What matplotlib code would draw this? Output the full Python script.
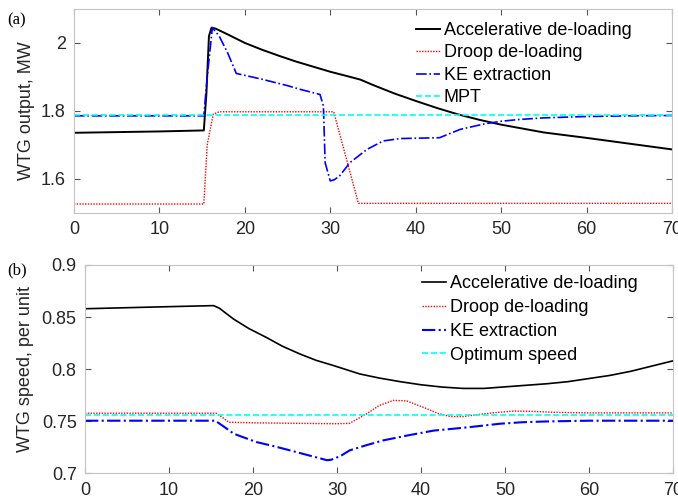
import numpy as np
from matplotlib import pyplot as plt

plt.rcParams['font.family'] = ['Liberation Sans', 'DejaVu Sans']

# (a) WTG output, MW
t_acc_p = [0, 5, 10, 15.2, 15.5, 15.8, 16.1, 16.6, 18, 20, 22, 24, 26, 28, 30, 32, 33.5, 35, 37.5,
           40, 42.5, 45, 47.5, 50, 55, 60, 65, 70]
acc_p = [1.735, 1.737, 1.739, 1.742, 1.85, 2.02, 2.045, 2.042, 2.025, 2.0, 1.98, 1.962, 1.945, 1.93,
         1.915, 1.902, 1.892, 1.876, 1.851, 1.829, 1.808, 1.789, 1.773, 1.759, 1.736, 1.72, 1.703, 1.686]

t_droop_p = [0, 15.2, 15.6, 16.3, 17, 30.4, 33.3, 70]
droop_p = [1.525, 1.525, 1.70, 1.79, 1.797, 1.797, 1.527, 1.527]

t_ke_p = [0, 15.2, 15.6, 16.2, 17, 18, 19.0, 22, 25, 26.5, 28.8, 29.2, 29.4, 30.0, 30.5, 31.1, 32.3,
          34.3, 36.2, 38.2, 40, 42.8, 45.2, 48, 50, 52, 55, 60, 65, 70]
ke_p = [1.785, 1.785, 1.9, 2.045, 2.02, 1.97, 1.91, 1.893, 1.874, 1.863, 1.848, 1.814, 1.647, 1.593,
        1.597, 1.608, 1.647, 1.686, 1.711, 1.718, 1.719, 1.7205, 1.745, 1.761, 1.769, 1.774, 1.779,
        1.783, 1.785, 1.786]

t_mpt = [0, 70]
mpt = [1.788, 1.788]

# (b) WTG speed, per unit
t_acc_w = [0, 5, 10, 15.3, 16.0, 16.8, 17.7, 19.5, 21.6, 23.5, 25.6, 27.5, 29.6, 32.7, 35, 37.5, 40,
           42.5, 45, 47.5, 50, 52.5, 55, 57.5, 60, 62.5, 65, 67.5, 70]
acc_w = [0.858, 0.859, 0.860, 0.861, 0.8585, 0.8535, 0.848, 0.839, 0.8304, 0.822, 0.8145, 0.8085,
         0.8034, 0.7954, 0.7915, 0.788, 0.785, 0.7828, 0.7815, 0.7815, 0.783, 0.7845, 0.786, 0.788,
         0.791, 0.794, 0.798, 0.803, 0.808]

t_droop_w = [0, 15.6, 16.3, 17.1, 20, 25, 30, 31.5, 33.5, 35, 36.7, 38.3, 40.7, 42, 43.5, 45, 47.4,
             49.4, 51, 53, 56, 60, 70]
droop_w = [0.7577, 0.7577, 0.754, 0.749, 0.7485, 0.748, 0.7476, 0.748, 0.757, 0.765, 0.770, 0.7695,
           0.762, 0.7575, 0.7545, 0.7545, 0.757, 0.7587, 0.7597, 0.7595, 0.7585, 0.758, 0.758]

t_ke_w = [0, 15.5, 16.5, 17.7, 20.4, 22.5, 24.4, 26.5, 28.8, 29.3, 30.4, 31.5, 33.5, 35.5, 38.5, 41.5,
          45.4, 49.4, 52, 55, 60, 65, 70]
ke_w = [0.7505, 0.7505, 0.745, 0.738, 0.730, 0.726, 0.722, 0.7175, 0.7126, 0.713, 0.7165, 0.722, 0.727,
        0.7316, 0.7365, 0.741, 0.744, 0.7476, 0.749, 0.7498, 0.7505, 0.7505, 0.7505]

t_opt = [0, 70]
opt_w = [0.7562, 0.7562]

fig = plt.figure(figsize=(6.78, 5.0), dpi=100)
ax1 = fig.add_axes([0.1091, 0.575, 0.882, 0.407])
ax2 = fig.add_axes([0.1254, 0.0534, 0.8673, 0.4166])

dotted = (0, (1, 1))

ax1.plot(t_acc_p, acc_p, color='black', lw=1.4, label='Accelerative de-loading')
ax1.plot(t_droop_p, droop_p, color='red', lw=1.0, ls=dotted, label='Droop de-loading')
ax1.plot(t_ke_p, ke_p, color='blue', lw=1.2, ls='-.', label='KE extraction')
ax1.plot(t_mpt, mpt, color='cyan', lw=1.2, ls='--', label='MPT')
ax1.set_ylim(1.5, 2.1)
ax1.set_yticks([1.6, 1.8, 2.0])
ax1.set_yticklabels(['1.6', '1.8', '2'])
ax1.set_ylabel('WTG output, MW')

ax2.plot(t_acc_w, acc_w, color='black', lw=1.2, label='Accelerative de-loading')
ax2.plot(t_droop_w, droop_w, color='red', lw=1.0, ls=dotted, label='Droop de-loading')
ax2.plot(t_ke_w, ke_w, color='blue', lw=1.5, ls='-.', label='KE extraction')
ax2.plot(t_opt, opt_w, color='cyan', lw=1.2, ls='--', label='Optimum speed')
ax2.set_ylim(0.7, 0.9)
ax2.set_yticks([0.7, 0.75, 0.8, 0.85, 0.9])
ax2.set_yticklabels(['0.7', '0.75', '0.8', '0.85', '0.9'])
ax2.set_ylabel('WTG speed, per unit')

for ax in (ax1, ax2):
    ax.set_xlim(0, 70)
    ax.set_xticks(range(0, 71, 10))
    ax.tick_params(direction='in', top=True, right=True, length=4, labelsize=13,
                   colors='#555555', labelcolor='#262626', pad=6)
    for s in ax.spines.values():
        s.set_color('#c4c4c4')
    ax.yaxis.label.set_size(13)
    ax.yaxis.label.set_color('#262626')

ax1.legend(loc='upper left', bbox_to_anchor=(416 / 678, 0.956), bbox_transform=fig.transFigure,
           frameon=False, fontsize=13, handlelength=1.33, handletextpad=0.22,
           labelspacing=0.3, borderaxespad=0, borderpad=0)
ax2.legend(loc='upper left', bbox_to_anchor=(422 / 678, 0.449), bbox_transform=fig.transFigure,
           frameon=False, fontsize=13, handlelength=1.33, handletextpad=0.22,
           labelspacing=0.37, borderaxespad=0, borderpad=0)

fig.text(0.011, 0.96, '(a)', family='Liberation Serif', fontsize=12, va='center')
fig.text(0.011, 0.459, '(b)', family='Liberation Serif', fontsize=12, va='center')
ax1.yaxis.set_label_coords(-0.065, 0.5)
ax2.yaxis.set_label_coords(-0.087, 0.5)

fig.savefig('out.png', dpi=100)
